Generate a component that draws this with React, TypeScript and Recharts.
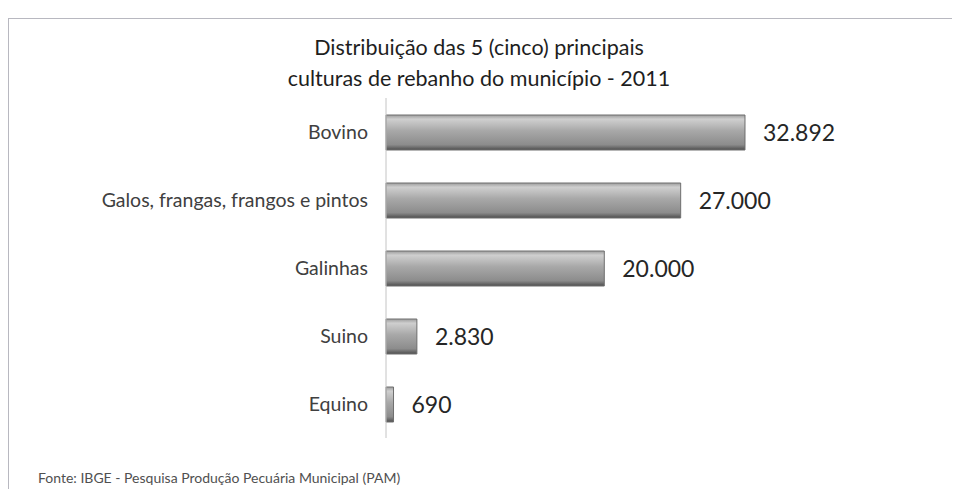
import { BarChart, Bar, XAxis, YAxis, LabelList } from "recharts";

const categories = [
  "Bovino",
  "Galos, frangas, frangos e pintos",
  "Galinhas",
  "Suino",
  "Equino",
];
const rebanho = [32892, 27000, 20000, 2830, 690];

const titleLines = [
  "Distribuição das 5 (cinco) principais",
  "culturas de rebanho do município - 2011",
];
const fonte = "Fonte: IBGE - Pesquisa Produção Pecuária Municipal (PAM)";

const data = categories.map((name, i) => ({ name, value: rebanho[i] }));

const fmt = (v: any) => String(v).replace(/\B(?=(\d{3})+(?!\d))/g, ".");

const font = "Lato, 'Open Sans', sans-serif";

export default function App() {
  return (
    <div style={{ position: "relative", width: 944, height: 481, fontFamily: font }}>
      <div
        style={{
          position: "absolute",
          left: 0,
          top: 10,
          width: 948,
          height: 472,
          border: "1px solid #b8b8c0",
          boxSizing: "border-box",
        }}
      />
      {titleLines.map((t, i) => (
        <div
          key={i}
          style={{
            position: "absolute",
            left: 0,
            width: 942,
            top: 25 + i * 31,
            textAlign: "center",
            fontSize: 21.5,
            color: "#1e1e1e",
            lineHeight: "28px",
          }}
        >
          {t}
        </div>
      ))}
      <BarChart
        width={944}
        height={481}
        data={data}
        layout="vertical"
        barSize={35}
        margin={{ top: 90, right: 184, bottom: 51, left: 0 }}
        style={{ position: "absolute", left: 0, top: 0 }}
      >
        <defs>
          <linearGradient id="barGrad" x1="0" y1="0" x2="0" y2="1">
            <stop offset="0%" stopColor="#9c9c9c" />
            <stop offset="12%" stopColor="#cfcfcf" />
            <stop offset="45%" stopColor="#a8a8a8" />
            <stop offset="85%" stopColor="#8c8c8c" />
            <stop offset="100%" stopColor="#4e4e4e" />
          </linearGradient>
        </defs>
        <XAxis type="number" hide domain={[0, 35000]} />
        <YAxis
          type="category"
          dataKey="name"
          width={378}
          axisLine={{ stroke: "#c4c4c4" }}
          tickLine={false}
          tickSize={6}
          tickMargin={12}
          tick={{ fill: "#404040", fontSize: 19.5, fontFamily: font }}
        />
        <Bar
          dataKey="value"
          fill="url(#barGrad)"
          stroke="#6e6e6e"
          strokeWidth={1}
          isAnimationActive={false}
        >
          <LabelList
            dataKey="value"
            position="right"
            offset={18}
            formatter={fmt}
            style={{ fill: "#262626", fontSize: 23, fontFamily: font }}
          />
        </Bar>
      </BarChart>
      <div
        style={{
          position: "absolute",
          left: 30,
          top: 461,
          fontSize: 14,
          color: "#505050",
        }}
      >
        {fonte}
      </div>
    </div>
  );
}
